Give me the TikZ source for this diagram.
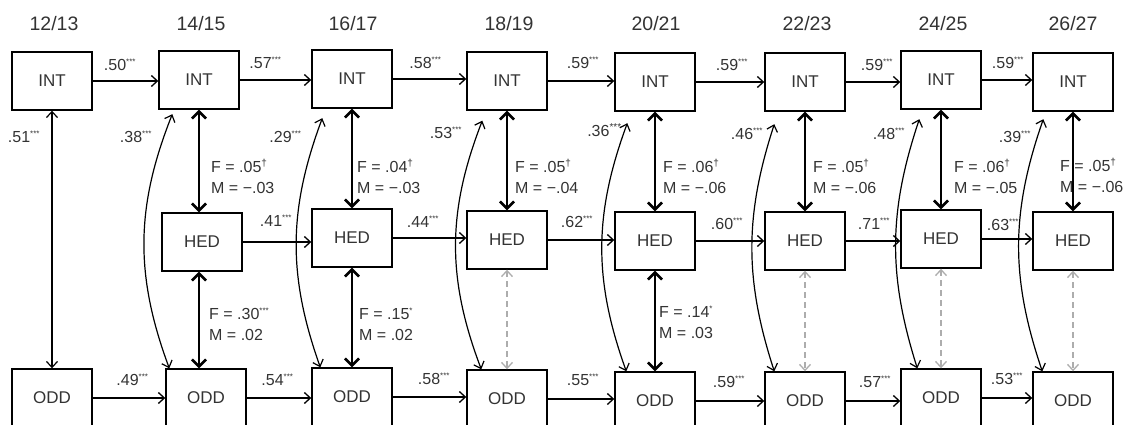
\documentclass[tikz,border=0pt]{standalone}
\usepackage{fontspec}
\setmainfont{Liberation Sans}
\usetikzlibrary{arrows.meta,calc}
\definecolor{txt}{gray}{0.2}
\definecolor{nsgray}{gray}{0.68}
\newcommand{\supx}[1]{\textsuperscript{\fontsize{8}{8}\selectfont #1}}
\newcommand{\supd}[1]{\textsuperscript{\fontsize{10}{10}\selectfont #1}}
\begin{document}
\begin{tikzpicture}[x=1pt,y=-1pt,
  box/.style={draw=black, line width=1.4pt, minimum width=80pt, minimum height=58pt, inner sep=0pt, text=txt, font=\fontsize{17}{20}\selectfont},
  yr/.style={text=txt, font=\fontsize{19.5}{22}\selectfont, inner sep=0pt},
  lab/.style={text=txt, font=\fontsize{16}{18}\selectfont, inner sep=0pt},
  fm/.style={text=txt, font=\fontsize{16}{21}\selectfont, align=left, anchor=west, inner sep=0pt},
  reg/.style={line width=1.3pt, -{Straight Barb[length=6pt,width=11pt]}},
  cov/.style={line width=1.2pt, {Straight Barb[length=6pt,width=11pt]}-{Straight Barb[length=6pt,width=11pt]}},
  covb/.style={line width=2.6pt, {Straight Barb[length=7pt,width=14pt]}-{Straight Barb[length=7pt,width=14pt]}},
  nsig/.style={draw=nsgray, line width=1.3pt, dash pattern=on 6pt off 4pt, {Straight Barb[length=6pt,width=11pt]}-{Straight Barb[length=6pt,width=11pt]}}]
\useasboundingbox (0,0) rectangle (1124,425);
\clip (0,0) rectangle (1124,425);

% years
\node[yr] (y1) at (54,24) {12/13};
\node[yr] (y2) at (201,24) {14/15};
\node[yr] (y3) at (353,24) {16/17};
\node[yr] (y4) at (509,24) {18/19};
\node[yr] (y5) at (656,24) {20/21};
\node[yr] (y6) at (807,24) {22/23};
\node[yr] (y7) at (943,24) {24/25};
\node[yr] (y8) at (1073,24) {26/27};

% INT
\node[box] (I1) at (52,81) {INT};
\node[box] (I2) at (199,80) {INT};
\node[box] (I3) at (352,79) {INT};
\node[box] (I4) at (507,81) {INT};
\node[box] (I5) at (655,82) {INT};
\node[box] (I6) at (805,82) {INT};
\node[box] (I7) at (941,80) {INT};
\node[box] (I8) at (1073,82) {INT};
% HED
\node[box] (H2) at (202,242) {HED};
\node[box] (H3) at (352,238) {HED};
\node[box] (H4) at (507,240) {HED};
\node[box] (H5) at (655,241) {HED};
\node[box] (H6) at (805,241) {HED};
\node[box] (H7) at (941,239) {HED};
\node[box] (H8) at (1073,241) {HED};
% ODD
\node[box] (O1) at (52,398) {ODD};
\node[box] (O2) at (206,398) {ODD};
\node[box] (O3) at (352,397) {ODD};
\node[box] (O4) at (507,399) {ODD};
\node[box] (O5) at (655,401) {ODD};
\node[box] (O6) at (805,401) {ODD};
\node[box] (O7) at (941,398) {ODD};
\node[box] (O8) at (1073,401) {ODD};

% horizontal paths
\foreach \r in {I,O}{
  \foreach \a/\b in {1/2,2/3,3/4,4/5,5/6,6/7,7/8}{
    \draw[reg] (\r\a.east) -- (\r\a.east -| \r\b.west);
  }
}
\foreach \a/\b in {2/3,3/4,4/5,5/6,6/7,7/8}{
  \draw[reg] (H\a.east) -- (H\a.east -| H\b.west);
}

% INT row labels
\node[lab] (li1) at (120,65) {.50\supx{***}};
\node[lab] (li2) at (265.5,63) {.57\supx{***}};
\node[lab] (li3) at (425.5,63) {.58\supx{***}};
\node[lab] (li4) at (583,63) {.59\supx{***}};
\node[lab] (li5) at (732,65) {.59\supx{***}};
\node[lab] (li6) at (877,65) {.59\supx{***}};
\node[lab] (li7) at (1008,63) {.59\supx{***}};
% HED row labels
\node[lab] (lh2) at (276,221) {.41\supx{***}};
\node[lab] (lh3) at (423,222) {.44\supx{***}};
\node[lab] (lh4) at (577,222) {.62\supx{***}};
\node[lab] (lh5) at (727,224) {.60\supx{***}};
\node[lab] (lh6) at (874,224) {.71\supx{***}};
\node[lab] (lh7) at (1003,225) {.63\supx{***}};
% ODD row labels
\node[lab] (lo1) at (132.5,380) {.49\supx{***}};
\node[lab] (lo2) at (277.5,380) {.54\supx{***}};
\node[lab] (lo3) at (434,379) {.58\supx{***}};
\node[lab] (lo4) at (583,380) {.55\supx{***}};
\node[lab] (lo5) at (729,382) {.59\supx{***}};
\node[lab] (lo6) at (875,382) {.57\supx{***}};
\node[lab] (lo7) at (1007,379) {.53\supx{***}};

% column 1 covariance
\draw[cov] (I1.south) -- (O1.north);
\node[lab] (lc1) at (24,137) {.51\supx{***}};

% INT-HED thick covariances
\draw[covb] (I2.south) -- (I2.south |- H2.north);
\draw[covb] (I3.south) -- (H3.north);
\draw[covb] (I4.south) -- (H4.north);
\draw[covb] (I5.south) -- (H5.north);
\draw[covb] (I6.south) -- (H6.north);
\draw[covb] (I7.south) -- (H7.north);
\draw[covb] (I8.south) -- (H8.north);

% HED-ODD covariances
\draw[covb] (H2.south -| I2.south) -- (O2.north -| I2.south);
\draw[covb] (H3.south) -- (O3.north);
\draw[covb] (H5.south) -- (O5.north);
\draw[nsig] (H4.south) -- (O4.north);
\draw[nsig] (H6.south) -- (O6.north);
\draw[nsig] (H7.south) -- (O7.north);
\draw[nsig] (H8.south) -- (O8.north);

% F/M labels
\node[fm] (f2) at (211,176.5) {F = .05\supd{†}\\M = −.03};
\node[fm] (f3) at (357,176.5) {F = .04\supd{†}\\M = −.03};
\node[fm] (f4) at (515,176.5) {F = .05\supd{†}\\M = −.04};
\node[fm] (f5) at (663,176.5) {F = .06\supd{†}\\M = −.06};
\node[fm] (f6) at (813,176.5) {F = .05\supd{†}\\M = −.06};
\node[fm] (f7) at (954,176.5) {F = .06\supd{†}\\M = −.05};
\node[fm] (f8) at (1060,175.5) {F = .05\supd{†}\\M = −.06};
\node[fm] (g2) at (209,324) {F = .30\supx{***}\\M = .02};
\node[fm] (g3) at (359,324) {F = .15\supx{*}\\M = .02};
\node[fm] (g5) at (659,322.5) {F = .14\supx{*}\\M = .03};

% INT-ODD curved covariances
\draw[cov] ([shift={(14,4.5)}]I2.south west) to[bend right=21] ([shift={(4,0)}]O2.north west);
\draw[cov] ([shift={(11,9.5)}]I3.south west) to[bend right=20] ([shift={(9,0)}]O3.north west);
\draw[cov] ([shift={(16,10)}]I4.south west) to[bend right=21] ([shift={(15,0)}]O4.north west);
\draw[cov] ([shift={(13,11.5)}]I5.south west) to[bend right=20] ([shift={(12,0)}]O5.north west);
\draw[cov] ([shift={(10,12.5)}]I6.south west) to[bend right=18] ([shift={(10,0)}]O6.north west);
\draw[cov] ([shift={(19,9.5)}]I7.south west) to[bend right=18] ([shift={(17,0)}]O7.north west);
\draw[cov] ([shift={(11,7.5)}]I8.south west) to[bend right=19] ([shift={(10,0)}]O8.north west);

\node[lab] (lc2) at (136,137) {.38\supx{***}};
\node[lab] (lc3) at (285.5,137) {.29\supx{***}};
\node[lab] (lc4) at (446,133) {.53\supx{***}};
\node[lab] (lc5) at (604.5,130) {.36\supd{***}};
\node[lab] (lc6) at (747,134) {.46\supx{***}};
\node[lab] (lc7) at (889,134) {.48\supx{***}};
\node[lab] (lc8) at (1015,137) {.39\supx{***}};
\end{tikzpicture}
\end{document}
